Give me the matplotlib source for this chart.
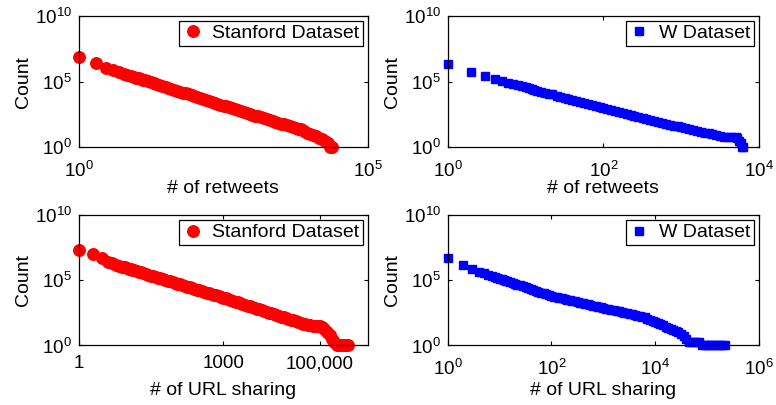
import matplotlib
matplotlib.use("Agg")
import matplotlib.pyplot as plt

plt.rcParams['font.family'] = ['Liberation Sans', 'DejaVu Sans']
plt.rcParams['mathtext.fontset'] = 'custom'
plt.rcParams['mathtext.rm'] = 'Liberation Sans'
plt.rcParams['mathtext.it'] = 'Liberation Sans'
plt.rcParams['font.size'] = 14

# retweet count distribution, Stanford dataset
st_rt_x = [1, 2, 3, 4, 5, 6, 7, 8, 9, 10, 11, 12, 13, 14, 16, 18, 20, 22, 25, 28, 32, 35, 40,
           45, 50, 56, 63, 71, 80, 90, 100, 112, 125, 140, 160, 180, 200, 225, 250, 280, 320,
           355, 400, 450, 500, 560, 630, 710, 800, 900, 1000, 1120, 1250, 1400, 1600, 1800,
           2000, 2250, 2500, 2800, 3200, 3550, 4000, 4500, 5000, 5600, 6300, 7100, 8000,
           9000, 10000, 11200, 12500, 14000, 16000, 18000, 20000, 22500, 23500]
st_rt_y = [7.1e6, 2.6e6, 1.1e6, 7.2e5, 5.2e5, 4.1e5, 3.3e5, 2.7e5, 2.3e5, 2.0e5, 1.74e5, 1.55e5,
           1.38e5, 1.23e5, 1.02e5, 8.7e4, 7.4e4, 6.6e4, 5.5e4, 4.7e4, 3.9e4, 3.4e4, 2.8e4,
           2.4e4, 2.0e4, 1.74e4, 1.48e4, 1.26e4, 1.05e4, 8900, 7800, 6600, 5600, 4800, 4000,
           3400, 2900, 2500, 2100, 1800, 1500, 1300, 1100, 930, 800, 680, 570, 490, 420, 355,
           310, 265, 230, 195, 162, 141, 120, 102, 89, 78, 65, 58, 49, 42, 36, 32, 27, 23, 19,
           13, 10, 9, 7, 5, 4, 3, 2, 1, 1]

# retweet count distribution, W dataset
w_rt_x = [1, 2, 3, 4, 5, 6, 7, 8, 9, 10, 11, 12, 13, 14, 16, 18, 20, 22, 25, 28, 32, 35, 40,
          45, 50, 56, 63, 71, 80, 90, 100, 112, 125, 140, 160, 180, 200, 225, 250, 280, 320,
          355, 400, 450, 500, 560, 630, 710, 800, 900, 1000, 1120, 1250, 1400, 1600, 1800,
          2000, 2250, 2500, 2800, 3200, 3550, 4000, 4500, 5000, 5300, 5600, 5800, 6000, 6200]
w_rt_y = [2.0e6, 5.5e5, 2.7e5, 1.5e5, 1.07e5, 7.9e4, 6.3e4, 5.1e4, 4.3e4, 3.6e4, 3.1e4, 2.7e4,
          2.4e4, 2.1e4, 1.74e4, 1.45e4, 1.23e4, 1.05e4, 8700, 7200, 5900, 5100, 4200,
          3500, 2950, 2450, 2050, 1700, 1400, 1170, 1000, 850, 710, 600, 490, 415, 355, 295,
          250, 215, 175, 150, 125, 105, 89, 76, 63, 53, 45, 39, 34, 29, 25, 22, 18, 15,
          13, 12, 10, 9, 7, 6, 6, 6, 6, 5, 3, 2, 1, 1]

# URL sharing count distribution, Stanford dataset
st_url_x = [1, 2, 3, 4, 5, 6, 7, 8, 9, 10, 11, 12, 13, 14, 16, 18, 20, 22, 25, 28, 32, 35, 40,
            45, 50, 56, 63, 71, 80, 90, 100, 112, 125, 140, 160, 180, 200, 225, 250, 280, 320,
            355, 400, 450, 500, 560, 630, 710, 800, 900, 1000, 1120, 1250, 1400, 1600, 1800,
            2000, 2250, 2500, 2800, 3200, 3550, 4000, 4500, 5000, 5600, 6300, 7100, 8000,
            9000, 10000, 11200, 12500, 14000, 16000, 18000, 20000, 22500, 25000, 28000,
            32000, 35500, 40000, 45000, 50000, 56000, 63000, 71000, 80000, 90000, 100000,
            112000, 125000, 140000, 160000, 180000, 200000, 225000, 250000, 280000, 320000,
            355000, 390000]
st_url_y = [2.0e7, 9.5e6, 4.7e6, 2.5e6, 1.95e6, 1.6e6, 1.33e6, 1.13e6, 1.0e6, 8.8e5, 7.9e5,
            7.1e5, 6.5e5, 6.0e5, 5.2e5, 4.5e5, 4.0e5, 3.6e5, 3.1e5, 2.7e5, 2.3e5, 2.1e5, 1.8e5,
            1.6e5, 1.4e5, 1.23e5, 1.07e5, 9.4e4, 8.2e4, 7.2e4, 6.3e4, 5.6e4, 4.9e4, 4.4e4,
            3.7e4, 3.3e4, 2.9e4, 2.5e4, 2.2e4, 1.95e4, 1.7e4, 1.5e4, 1.3e4, 1.15e4, 1.02e4,
            8900, 7800, 6900, 6000, 5200, 4700, 4100, 3500, 3100, 2600, 2300,
            2000, 1750, 1550, 1350, 1150, 1000, 870, 760, 660, 575, 500, 435, 380,
            330, 290, 250, 220, 190, 162, 141, 126, 107, 95, 83,
            71, 63, 55, 48, 42, 36, 34, 33, 33, 33, 32,
            28, 18, 10, 6, 3, 2, 1, 1, 1, 1,
            1, 1]

# URL sharing count distribution, W dataset
w_url_x = [1, 2, 3, 4, 5, 6, 7, 8, 9, 10, 11, 12, 13, 14, 16, 18, 20, 22, 25, 28, 32, 35, 40,
           45, 50, 56, 63, 71, 80, 90, 100, 112, 125, 140, 160, 180, 200, 225, 250, 280, 320,
           355, 400, 450, 500, 560, 630, 710, 800, 900, 1000, 1120, 1250, 1400, 1600, 1800,
           2000, 2250, 2500, 2800, 3200, 3550, 4000, 4500, 5000, 5600, 6300, 7100, 8000,
           9000, 10000, 11200, 12500, 14000, 16000, 18000, 20000, 22500, 25000, 28000,
           32000, 35500, 40000, 45000, 50000, 56000, 63000, 71000, 80000, 90000, 100000,
           112000, 125000, 140000, 160000, 180000, 200000, 225000]
w_url_y = [4.7e6, 1.4e6, 7.0e5, 4.6e5, 3.4e5, 2.7e5, 2.2e5, 1.8e5, 1.55e5, 1.35e5, 1.2e5,
           1.05e5, 9.5e4, 8.7e4, 7.2e4, 6.2e4, 5.4e4, 4.7e4, 4.0e4, 3.4e4, 2.8e4, 2.5e4, 2.1e4,
           1.8e4, 1.55e4, 1.35e4, 1.15e4, 9800, 8300, 7100, 6200, 5500, 5000, 4500, 4000,
           3600, 3300, 2950, 2700, 2400, 2150, 1950, 1750, 1580, 1420, 1290, 1150, 1040, 930,
           830, 760, 680, 620, 560, 490, 445, 405, 365, 330, 295, 265, 240, 215, 195, 178,
           160, 142, 115, 93, 76, 62, 50, 42, 34, 27, 22, 18, 15, 12, 10,
           7, 5, 3, 2, 2, 2, 2, 2, 1, 1, 1,
           1, 1, 1, 1, 1, 1, 1]

fig = plt.figure(figsize=(7.76, 4.05), dpi=100)

ax_tl = fig.add_axes([0.1012, 0.636, 0.3730, 0.325])
ax_tr = fig.add_axes([0.5770, 0.636, 0.4010, 0.325])
ax_bl = fig.add_axes([0.1012, 0.147, 0.3730, 0.322])
ax_br = fig.add_axes([0.5770, 0.147, 0.4010, 0.322])

red_kw = dict(marker='o', linestyle='none', color='#ff0000', markersize=8.3, clip_on=False)
blue_kw = dict(marker='s', linestyle='none', color='#0000ff', markersize=6.4, clip_on=False)

ax_tl.plot(st_rt_x, st_rt_y, label='Stanford Dataset', **red_kw)
ax_tr.plot(w_rt_x, w_rt_y, label='W Dataset', **blue_kw)
ax_bl.plot(st_url_x, st_url_y, label='Stanford Dataset', **red_kw)
ax_br.plot(w_url_x, w_url_y, label='W Dataset', **blue_kw)

for ax in [ax_tl, ax_tr, ax_bl, ax_br]:
    ax.set_xscale('log')
    ax.set_yscale('log')
    ax.set_ylim(1, 1e10)
    ax.set_yticks([1, 1e5, 1e10])
    ax.tick_params(direction='in', length=3, width=0.8, top=True, right=True,
                   labelsize=13.5)
    ax.tick_params(axis='x', pad=10)
    ax.tick_params(axis='y', pad=5)
    ax.set_ylabel('Count', fontsize=14, labelpad=2)
    for s in ax.spines.values():
        s.set_linewidth(0.9)
    leg = ax.legend(loc='upper right', numpoints=1, fancybox=False, framealpha=1,
                    edgecolor='black', fontsize=14, borderpad=0.2, borderaxespad=0.25,
                    handlelength=1.0, handletextpad=0.5)
    leg.get_frame().set_linewidth(0.9)

ax_tl.set_xlim(1, 1e5)
ax_tl.set_xticks([1, 1e5])
ax_tl.set_xlabel('# of retweets', fontsize=14, labelpad=-1)

ax_tr.set_xlim(1, 1e4)
ax_tr.set_xticks([1, 1e2, 1e4])
ax_tr.set_xlabel('# of retweets', fontsize=14, labelpad=-1)

ax_bl.set_xlim(1, 1e6)
ax_bl.set_xticks([1, 1000, 100000])
ax_bl.set_xticklabels(['1', '1000', '100,000'])
ax_bl.tick_params(axis='x', pad=7)
ax_bl.set_xlabel('# of URL sharing', fontsize=14, labelpad=7)

ax_br.set_xlim(1, 1e6)
ax_br.set_xticks([1, 1e2, 1e4, 1e6])
ax_br.set_xlabel('# of URL sharing', fontsize=14, labelpad=2)

for ax in [ax_tl, ax_tr, ax_bl, ax_br]:
    ax.minorticks_off()

fig.savefig('out.png', dpi=100)
